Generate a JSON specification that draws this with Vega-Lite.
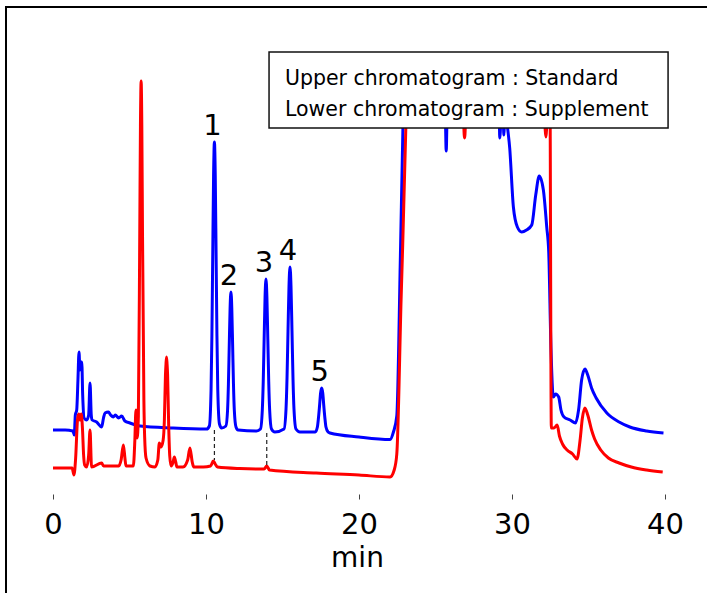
{
 "$schema": "https://vega.github.io/schema/vega-lite/v6.json",
 "width": 702, "height": 587,
 "autosize": {"type": "none"},
 "padding": {"left": 6, "top": 7, "right": 0, "bottom": 0},
 "background": "white",
 "config": {"view": {"stroke": "#000", "strokeWidth": 2}, "font": "DejaVu Sans"},
 "datasets": {
  "standard": [
   {"time":0.0,"signal":38},{"time":0.8,"signal":38},{"time":1.3,"signal":37},{"time":1.39,"signal":33},{"time":1.46,"signal":53},{"time":1.55,"signal":58},{"time":1.63,"signal":88},{"time":1.7,"signal":116},{"time":1.76,"signal":98},{"time":1.82,"signal":106},{"time":1.88,"signal":106},{"time":1.94,"signal":73},{"time":2.03,"signal":50},{"time":2.2,"signal":48},{"time":2.33,"signal":53},{"time":2.42,"signal":85},{"time":2.5,"signal":53},{"time":2.56,"signal":48},{"time":2.85,"signal":46},{"time":3.18,"signal":41},{"time":3.3,"signal":50},{"time":3.4,"signal":55},{"time":3.62,"signal":56},{"time":3.77,"signal":53},{"time":3.94,"signal":51},{"time":4.07,"signal":53},{"time":4.29,"signal":50},{"time":4.49,"signal":52},{"time":4.7,"signal":47},{"time":5.03,"signal":45},{"time":5.69,"signal":42},{"time":7.85,"signal":40},{"time":10.04,"signal":39},
   {"time":10.22,"signal":42},{"time":10.33,"signal":78},{"time":10.385,"signal":132},{"time":10.44,"signal":213},{"time":10.495,"signal":292},{"time":10.55,"signal":326},{"time":10.605,"signal":292},{"time":10.66,"signal":213},{"time":10.715,"signal":132},{"time":10.77,"signal":78},{"time":10.88,"signal":44},{"time":11.02,"signal":40},
   {"time":11.3,"signal":42},{"time":11.41,"signal":58},{"time":11.465,"signal":84},{"time":11.52,"signal":123},{"time":11.575,"signal":160},{"time":11.63,"signal":176},{"time":11.685,"signal":160},{"time":11.74,"signal":123},{"time":11.795,"signal":84},{"time":11.85,"signal":58},{"time":11.96,"signal":41},{"time":12.1,"signal":38},{"time":13.3,"signal":37},
   {"time":13.56,"signal":39},{"time":13.68,"signal":58},{"time":13.74,"signal":86},{"time":13.8,"signal":129},{"time":13.86,"signal":171},{"time":13.92,"signal":189},{"time":13.98,"signal":171},{"time":14.04,"signal":129},{"time":14.1,"signal":86},{"time":14.16,"signal":58},{"time":14.28,"signal":39},{"time":14.5,"signal":36},
   {"time":15.1,"signal":39},{"time":15.23,"signal":59},{"time":15.295,"signal":90},{"time":15.36,"signal":137},{"time":15.425,"signal":182},{"time":15.49,"signal":201},{"time":15.555,"signal":182},{"time":15.62,"signal":137},{"time":15.685,"signal":90},{"time":15.75,"signal":59},{"time":15.88,"signal":39},{"time":16.14,"signal":36},
   {"time":17.14,"signal":36},{"time":17.28,"signal":41},{"time":17.35,"signal":50},{"time":17.42,"signal":62},{"time":17.49,"signal":75},{"time":17.56,"signal":80},{"time":17.63,"signal":75},{"time":17.7,"signal":62},{"time":17.77,"signal":50},{"time":17.84,"signal":41},{"time":17.98,"signal":36},{"time":18.1,"signal":35},{"time":20.0,"signal":31},{"time":22.03,"signal":28.5},
   {"time":22.25,"signal":36},{"time":22.47,"signal":52},{"time":22.7,"signal":208},{"time":22.87,"signal":340},{"time":22.95,"signal":408},
   {"time":25.55,"signal":408},{"time":25.63,"signal":368},{"time":25.7,"signal":317},{"time":25.77,"signal":368},{"time":25.85,"signal":408},
   {"time":29.12,"signal":408},{"time":29.2,"signal":330},{"time":29.3,"signal":360},{"time":29.38,"signal":380},{"time":29.47,"signal":333},{"time":29.55,"signal":370},{"time":29.68,"signal":345},{"time":29.85,"signal":320},
   {"time":30.09,"signal":261},{"time":30.35,"signal":241},{"time":30.63,"signal":236},{"time":30.95,"signal":238},{"time":31.29,"signal":243},{"time":31.55,"signal":273},{"time":31.78,"signal":292},{"time":32.05,"signal":278},{"time":32.27,"signal":241},{"time":32.4,"signal":216},{"time":32.55,"signal":118},{"time":32.7,"signal":71},
   {"time":32.85,"signal":74},{"time":33.05,"signal":71},{"time":33.2,"signal":58},{"time":33.4,"signal":51},{"time":33.8,"signal":48},{"time":34.15,"signal":45},{"time":34.35,"signal":58},{"time":34.55,"signal":88},{"time":34.77,"signal":99},{"time":34.95,"signal":93},{"time":35.2,"signal":80},{"time":35.5,"signal":70},{"time":36.2,"signal":55},{"time":37.0,"signal":46},{"time":37.7,"signal":41},{"time":38.8,"signal":37},{"time":39.9,"signal":35}
  ],
  "supplement": [
   {"time":0.0,"signal":0},{"time":1.25,"signal":0},{"time":1.37,"signal":-7},{"time":1.48,"signal":10},{"time":1.6,"signal":48},{"time":1.68,"signal":54},{"time":1.76,"signal":48},{"time":1.85,"signal":54},{"time":1.93,"signal":38},{"time":2.0,"signal":13},{"time":2.07,"signal":3},{"time":2.2,"signal":1},{"time":2.33,"signal":13},{"time":2.42,"signal":38},{"time":2.52,"signal":1},
   {"time":3.18,"signal":5},{"time":3.3,"signal":2},{"time":3.75,"signal":2},{"time":4.3,"signal":2},{"time":4.45,"signal":8},{"time":4.6,"signal":23},{"time":4.7,"signal":10},{"time":4.77,"signal":2},{"time":5.25,"signal":2},{"time":5.35,"signal":28},{"time":5.42,"signal":58},{"time":5.5,"signal":30},{"time":5.58,"signal":52},{"time":5.67,"signal":235},{"time":5.715,"signal":342},{"time":5.76,"signal":387},{"time":5.805,"signal":342},{"time":5.85,"signal":235},{"time":5.94,"signal":68},{"time":5.99,"signal":31},{"time":6.08,"signal":10},{"time":6.34,"signal":2},{"time":6.66,"signal":1},
   {"time":6.85,"signal":8},{"time":6.95,"signal":25},{"time":7.06,"signal":21},{"time":7.2,"signal":28},{"time":7.28,"signal":48},{"time":7.35,"signal":93},{"time":7.385,"signal":104},{"time":7.42,"signal":111},{"time":7.455,"signal":104},{"time":7.49,"signal":93},{"time":7.56,"signal":43},{"time":7.63,"signal":12},{"time":7.72,"signal":2},{"time":7.85,"signal":6},{"time":7.93,"signal":11},{"time":8.02,"signal":6},{"time":8.1,"signal":1},{"time":8.5,"signal":1},{"time":8.8,"signal":8},{"time":8.95,"signal":20},{"time":9.1,"signal":6},{"time":9.2,"signal":1},{"time":9.83,"signal":1},
   {"time":10.3,"signal":2},{"time":10.48,"signal":7},{"time":10.6,"signal":4},{"time":10.75,"signal":1},{"time":12.2,"signal":-0.5},{"time":13.8,"signal":-1},{"time":13.97,"signal":2},{"time":14.15,"signal":-2},{"time":17.2,"signal":-5},{"time":20.0,"signal":-7},{"time":22.03,"signal":-9},
   {"time":22.3,"signal":-2},{"time":22.47,"signal":14},{"time":22.75,"signal":168},{"time":23.06,"signal":340},{"time":23.15,"signal":408},
   {"time":26.8,"signal":408},{"time":26.85,"signal":343},{"time":26.9,"signal":330},{"time":26.95,"signal":343},{"time":27.0,"signal":408},
   {"time":32.1,"signal":408},{"time":32.17,"signal":338},{"time":32.22,"signal":331},{"time":32.3,"signal":358},{"time":32.38,"signal":408},{"time":32.47,"signal":408},{"time":32.57,"signal":40},
   {"time":32.75,"signal":40},{"time":32.95,"signal":43},{"time":33.1,"signal":32},{"time":33.3,"signal":24},{"time":33.6,"signal":18},{"time":33.96,"signal":14},{"time":34.25,"signal":9},{"time":34.45,"signal":28},{"time":34.6,"signal":50},{"time":34.76,"signal":60},{"time":34.95,"signal":53},{"time":35.2,"signal":38},{"time":35.4,"signal":29},{"time":35.8,"signal":18},{"time":36.3,"signal":10},{"time":37.0,"signal":5},{"time":37.8,"signal":1},{"time":38.8,"signal":-2},{"time":39.85,"signal":-4}
  ],
  "peaks": [
   {"peak":"1","time":10.55,"signal":326},{"peak":"2","time":11.63,"signal":176},{"peak":"3","time":13.92,"signal":189},{"peak":"4","time":15.49,"signal":201},{"peak":"5","time":17.56,"signal":80}
  ],
  "links": [
   {"time":10.55,"signal":38,"signal2":8},{"time":13.97,"signal":35,"signal2":1.3}
  ]
 },
 "layer": [
  {
   "data": {"name": "standard"},
   "transform": [{"calculate": "'Standard'", "as": "sample"}],
   "mark": {"type": "line", "strokeWidth": 3, "interpolate": "monotone"},
   "encoding": {
    "x": {"field": "time", "type": "quantitative", "scale": {"domain": [-3.072, 42.81], "nice": false, "zero": false},
      "axis": {"title": "min", "values": [0,10,20,30,40], "offset": -100, "domain": false, "grid": false, "tickSize": 5, "tickColor": "#444", "tickWidth": 1, "labelFontSize": 29, "labelColor": "#000", "labelPadding": 11, "labelFont": "DejaVu Sans", "labelFlush": false, "labelOverlap": false, "format": "d", "titleFontSize": 28, "titleFont": "DejaVu Sans", "titleFontWeight": "normal", "titleColor": "#000", "titlePadding": 5}},
    "y": {"field": "signal", "type": "quantitative", "scale": {"domain": [-126, 461], "nice": false, "zero": false}, "axis": null},
    "color": {"field": "sample", "type": "nominal", "scale": {"domain": ["Standard", "Supplement"], "range": ["#0000FF", "#FF0000"]}, "legend": null}
   }
  },
  {
   "data": {"name": "supplement"},
   "transform": [{"calculate": "'Supplement'", "as": "sample"}],
   "mark": {"type": "line", "strokeWidth": 3, "interpolate": "monotone"},
   "encoding": {
    "x": {"field": "time", "type": "quantitative"},
    "y": {"field": "signal", "type": "quantitative"},
    "color": {"field": "sample", "type": "nominal", "legend": null}
   }
  },
  {
   "data": {"name": "links"},
   "mark": {"type": "rule", "strokeWidth": 1.2, "strokeDash": [4, 3], "color": "#222"},
   "encoding": {
    "x": {"field": "time", "type": "quantitative"},
    "y": {"field": "signal", "type": "quantitative"},
    "y2": {"field": "signal2"}
   }
  },
  {
   "data": {"name": "peaks"},
   "mark": {"type": "text", "fontSize": 29, "font": "DejaVu Sans", "dy": -16, "dx": -2, "baseline": "middle", "align": "center", "color": "#000"},
   "encoding": {
    "x": {"field": "time", "type": "quantitative"},
    "y": {"field": "signal", "type": "quantitative"},
    "text": {"field": "peak"}
   }
  },
  {
   "data": {"values": [{}]},
   "mark": {"type": "rect", "fill": "white", "stroke": "#111", "strokeWidth": 1.5},
   "encoding": {
    "x": {"datum": 14.12, "type": "quantitative"},
    "x2": {"datum": 40.2},
    "y": {"datum": 416, "type": "quantitative"},
    "y2": {"datum": 340}
   }
  },
  {
   "data": {"values": [{"line": "Upper chromatogram : Standard", "row": 1}, {"line": "Lower chromatogram : Supplement", "row": 2}]},
   "transform": [{"calculate": "datum.row === 1 ? 389 : 358", "as": "ypos"}],
   "mark": {"type": "text", "fontSize": 20.5, "font": "DejaVu Sans", "align": "left", "baseline": "middle", "color": "#000"},
   "encoding": {
    "x": {"datum": 15.16, "type": "quantitative"},
    "y": {"field": "ypos", "type": "quantitative"},
    "text": {"field": "line"}
   }
  }
 ]
}
